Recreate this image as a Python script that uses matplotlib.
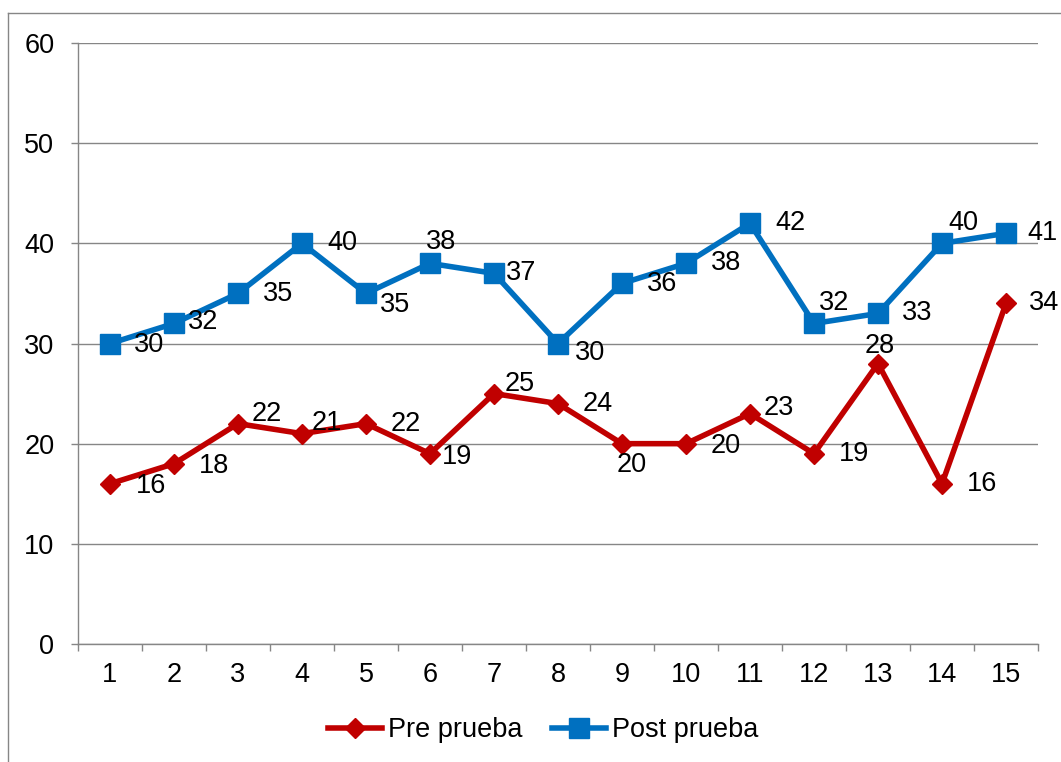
import matplotlib.pyplot as plt
from matplotlib.lines import Line2D

plt.rcParams['font.family'] = ['Liberation Sans', 'DejaVu Sans']

participants = list(range(1, 16))
pre_prueba = [16, 18, 22, 21, 22, 19, 25, 24, 20, 20, 23, 19, 28, 16, 34]
post_prueba = [30, 32, 35, 40, 35, 38, 37, 30, 36, 38, 42, 32, 33, 40, 41]

# label offsets in pixels (dx, dy) relative to each marker
pre_offsets = [(41, -2), (40, -2), (29, 10), (25, 11), (40, 0), (27, -3), (26, 10), (40, 0),
               (10, -21), (40, -2), (29, 6), (40, 0), (2, 18), (40, 0), (38, 0)]
post_offsets = [(39, -1), (29, 1), (40, -1), (40, 0), (29, -12), (11, 21), (27, 0), (32, -10),
                (40, -1), (40, 0), (40, 0), (20, 20), (39, 0), (21, 20), (37, 0)]

red = '#C00000'
blue = '#0070C0'
gray = '#868686'
fs = 19.5

fig = plt.figure(figsize=(10.61, 7.62), dpi=100)
ax = fig.add_axes([78 / 1061, 1 - 644 / 762, 960 / 1061, 601 / 762])

ax.plot(participants, pre_prueba, color=red, lw=4.0, marker='D', ms=10.5,
        label='Pre prueba', zorder=3)
ax.plot(participants, post_prueba, color=blue, lw=4.0, marker='s', ms=14,
        label='Post prueba', zorder=3)

for x, v, off in zip(participants, pre_prueba, pre_offsets):
    ax.annotate(str(v), (x, v), xytext=off, textcoords='offset pixels',
                ha='center', va='center', fontsize=fs, zorder=4)
for x, v, off in zip(participants, post_prueba, post_offsets):
    ax.annotate(str(v), (x, v), xytext=off, textcoords='offset pixels',
                ha='center', va='center', fontsize=fs, zorder=4)

ax.set_xlim(0.5, 15.5)
ax.set_ylim(0, 60)
ax.set_yticks(range(0, 61, 10))
ax.set_xticks(participants)
ax.set_xticks([i + 0.5 for i in range(0, 16)], minor=True)
ax.yaxis.grid(True, color=gray, lw=1.0)
ax.set_axisbelow(True)

for side in ('top', 'right'):
    ax.spines[side].set_visible(False)
for side in ('left', 'bottom'):
    ax.spines[side].set_color(gray)
    ax.spines[side].set_linewidth(1.0)

ax.tick_params(axis='y', length=5, width=1.0, color=gray, pad=12, labelsize=fs)
ax.tick_params(axis='x', which='major', length=0, pad=13, labelsize=fs)
ax.tick_params(axis='x', which='minor', length=5, width=1.0, color=gray)

ax.legend(loc='center', bbox_to_anchor=(543 / 1061, 1 - 730 / 762),
          bbox_transform=fig.transFigure, ncol=2, frameon=False, fontsize=fs,
          handlelength=2.0, handletextpad=0.2, columnspacing=1.1)

# outer chart frame
fig.add_artist(Line2D([8 / 1061, 8 / 1061], [0, 1 - 13 / 762], color=gray, lw=1.0,
                      transform=fig.transFigure))
fig.add_artist(Line2D([8 / 1061, 1], [1 - 13 / 762, 1 - 13 / 762], color=gray, lw=1.0,
                      transform=fig.transFigure))

fig.savefig('out.png', dpi=100)
